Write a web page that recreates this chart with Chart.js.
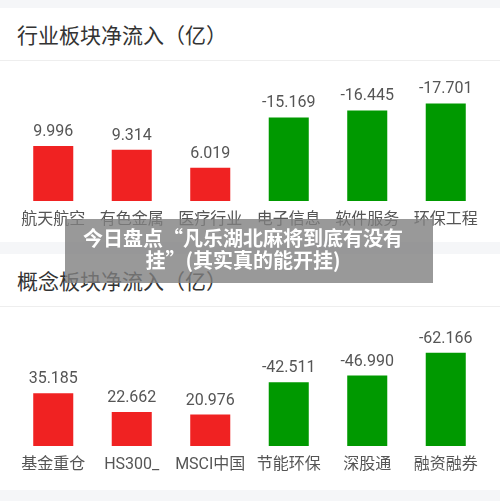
<!DOCTYPE html>
<html>
<head>
<meta charset="utf-8">
<script src="https://cdn.jsdelivr.net/npm/chart.js@4"></script>
<style>
  html, body { margin: 0; padding: 0; background: #fff; }
  body { width: 500px; height: 503px; position: relative; overflow: hidden;
         font-family: Roboto, "Noto Sans CJK SC", sans-serif; }
  .strip { background: #f5f6f8; }
  .head { height: 47px; padding-top: 5px; border-bottom: 1px solid #eeeeee; box-sizing: content-box;
          font-size: 21px; color: #333; line-height: 47px; padding-left: 17px; }
  .box { position: relative; width: 500px; }
  .banner { position: absolute; left: 65px; top: 219px; width: 368px; height: 64px;
            background: rgba(128,128,128,0.8); color: #fff; font-weight: bold;
            font-size: 20px; line-height: 22px; text-align: center; padding-right: 12px;
            font-family: "Noto Sans CJK SC", sans-serif; padding-top: 8px; box-sizing: border-box; }
</style>
</head>
<body>
<div class="strip" style="height:8px"></div>
<div class="head">行业板块净流入（亿）</div>
<div class="box" style="height:181px"><canvas id="industryChart"></canvas></div>
<div class="strip" style="height:12px"></div>
<div class="head">概念板块净流入（亿）</div>
<div class="box" style="height:183px"><canvas id="conceptChart"></canvas></div>
<div class="strip" style="height:11px"></div>
<div class="banner">今日盘点“凡乐湖北麻将到底有没有<br>挂”(其实真的能开挂)</div>

<script>
// industry sectors, net inflow (100 million)
const industryLabels = ['航天航空', '有色金属', '医疗行业', '电子信息', '软件服务', '环保工程'];
const industryValues = [9.996, 9.314, 6.019, -15.169, -16.445, -17.701];

// concept sectors, net inflow (100 million)
const conceptLabels = ['基金重仓', 'HS300_', 'MSCI中国', '节能环保', '深股通', '融资融券'];
const conceptValues = [35.185, 22.662, 20.976, -42.511, -46.990, -62.166];

const RED = '#f02222';
const GREEN = '#009900';

// writes the signed value above each bar
const valueLabels = {
  id: 'valueLabels',
  afterDatasetsDraw: function (chart) {
    const ctx = chart.ctx;
    const signed = chart.data.datasets[0].signed;
    ctx.save();
    ctx.font = '16px Roboto, "Noto Sans CJK SC", sans-serif';
    ctx.fillStyle = '#555';
    ctx.textAlign = 'center';
    ctx.textBaseline = 'middle';
    chart.getDatasetMeta(0).data.forEach(function (bar, i) {
      ctx.fillText(signed[i].toFixed(3), bar.x, bar.y - 14);
    });
    ctx.restore();
  }
};

function makeChart(id, labels, values, yMax, axisH) {
  return new Chart(document.getElementById(id), {
    type: 'bar',
    data: {
      labels: labels,
      datasets: [{
        data: values.map(function (v) { return Math.abs(v); }),
        signed: values,
        backgroundColor: values.map(function (v) { return v >= 0 ? RED : GREEN; }),
        barPercentage: 0.51,
        categoryPercentage: 1
      }]
    },
    options: {
      responsive: true,
      maintainAspectRatio: false,
      animation: false,
      layout: { padding: { left: 14, right: 15, top: 10, bottom: 0 } },
      scales: {
        x: {
          grid: { display: false, drawTicks: false },
          border: { display: false },
          ticks: { color: '#555', padding: 9, maxRotation: 0, autoSkip: false,
                   font: { size: 16, family: 'Roboto, "Noto Sans CJK SC", sans-serif' } },
          afterFit: function (axis) { axis.height = axisH; }
        },
        y: { display: false, min: 0, max: yMax }
      },
      plugins: { legend: { display: false }, tooltip: { enabled: false } }
    },
    plugins: [valueLabels]
  });
}

makeChart('industryChart', industryLabels, industryValues, 23.6, 41);
makeChart('conceptChart', conceptLabels, conceptValues, 86, 44);
</script>
</body>
</html>
